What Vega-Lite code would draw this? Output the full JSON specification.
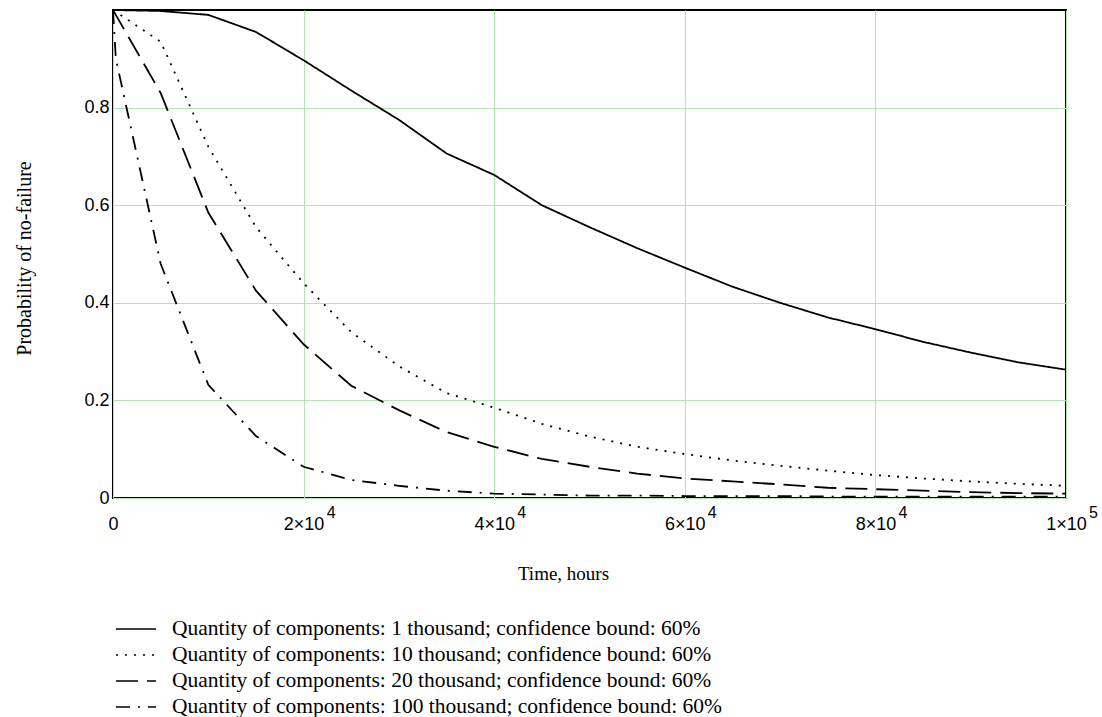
{
  "$schema": "https://vega.github.io/schema/vega-lite/v6.json",
  "autosize": "none",
  "width": 953,
  "height": 488,
  "padding": {"left": 113, "top": 10, "right": 36, "bottom": 219},
  "background": "white",
  "config": {
    "view": {"stroke": "black", "strokeWidth": 2},
    "axis": {"gridColor": "#aee8ae", "gridOpacity": 1, "gridWidth": 1, "domain": false, "ticks": false}
  },
  "datasets": {
    "curves": [
      {"t": 0, "p": 1.0, "series": "Quantity of components: 1 thousand; confidence bound: 60%"},
      {"t": 5000, "p": 0.998, "series": "Quantity of components: 1 thousand; confidence bound: 60%"},
      {"t": 10000, "p": 0.99, "series": "Quantity of components: 1 thousand; confidence bound: 60%"},
      {"t": 15000, "p": 0.955, "series": "Quantity of components: 1 thousand; confidence bound: 60%"},
      {"t": 20000, "p": 0.897, "series": "Quantity of components: 1 thousand; confidence bound: 60%"},
      {"t": 25000, "p": 0.835, "series": "Quantity of components: 1 thousand; confidence bound: 60%"},
      {"t": 30000, "p": 0.775, "series": "Quantity of components: 1 thousand; confidence bound: 60%"},
      {"t": 35000, "p": 0.706, "series": "Quantity of components: 1 thousand; confidence bound: 60%"},
      {"t": 40000, "p": 0.662, "series": "Quantity of components: 1 thousand; confidence bound: 60%"},
      {"t": 45000, "p": 0.6, "series": "Quantity of components: 1 thousand; confidence bound: 60%"},
      {"t": 50000, "p": 0.555, "series": "Quantity of components: 1 thousand; confidence bound: 60%"},
      {"t": 55000, "p": 0.512, "series": "Quantity of components: 1 thousand; confidence bound: 60%"},
      {"t": 60000, "p": 0.472, "series": "Quantity of components: 1 thousand; confidence bound: 60%"},
      {"t": 65000, "p": 0.433, "series": "Quantity of components: 1 thousand; confidence bound: 60%"},
      {"t": 70000, "p": 0.4, "series": "Quantity of components: 1 thousand; confidence bound: 60%"},
      {"t": 75000, "p": 0.37, "series": "Quantity of components: 1 thousand; confidence bound: 60%"},
      {"t": 80000, "p": 0.346, "series": "Quantity of components: 1 thousand; confidence bound: 60%"},
      {"t": 85000, "p": 0.32, "series": "Quantity of components: 1 thousand; confidence bound: 60%"},
      {"t": 90000, "p": 0.298, "series": "Quantity of components: 1 thousand; confidence bound: 60%"},
      {"t": 95000, "p": 0.278, "series": "Quantity of components: 1 thousand; confidence bound: 60%"},
      {"t": 100000, "p": 0.263, "series": "Quantity of components: 1 thousand; confidence bound: 60%"},

      {"t": 0, "p": 1.0, "series": "Quantity of components: 10 thousand; confidence bound: 60%"},
      {"t": 5000, "p": 0.935, "series": "Quantity of components: 10 thousand; confidence bound: 60%"},
      {"t": 10000, "p": 0.72, "series": "Quantity of components: 10 thousand; confidence bound: 60%"},
      {"t": 15000, "p": 0.555, "series": "Quantity of components: 10 thousand; confidence bound: 60%"},
      {"t": 20000, "p": 0.44, "series": "Quantity of components: 10 thousand; confidence bound: 60%"},
      {"t": 25000, "p": 0.34, "series": "Quantity of components: 10 thousand; confidence bound: 60%"},
      {"t": 30000, "p": 0.27, "series": "Quantity of components: 10 thousand; confidence bound: 60%"},
      {"t": 35000, "p": 0.215, "series": "Quantity of components: 10 thousand; confidence bound: 60%"},
      {"t": 40000, "p": 0.185, "series": "Quantity of components: 10 thousand; confidence bound: 60%"},
      {"t": 45000, "p": 0.152, "series": "Quantity of components: 10 thousand; confidence bound: 60%"},
      {"t": 50000, "p": 0.126, "series": "Quantity of components: 10 thousand; confidence bound: 60%"},
      {"t": 55000, "p": 0.105, "series": "Quantity of components: 10 thousand; confidence bound: 60%"},
      {"t": 60000, "p": 0.09, "series": "Quantity of components: 10 thousand; confidence bound: 60%"},
      {"t": 65000, "p": 0.077, "series": "Quantity of components: 10 thousand; confidence bound: 60%"},
      {"t": 70000, "p": 0.066, "series": "Quantity of components: 10 thousand; confidence bound: 60%"},
      {"t": 75000, "p": 0.056, "series": "Quantity of components: 10 thousand; confidence bound: 60%"},
      {"t": 80000, "p": 0.047, "series": "Quantity of components: 10 thousand; confidence bound: 60%"},
      {"t": 85000, "p": 0.04, "series": "Quantity of components: 10 thousand; confidence bound: 60%"},
      {"t": 90000, "p": 0.034, "series": "Quantity of components: 10 thousand; confidence bound: 60%"},
      {"t": 95000, "p": 0.029, "series": "Quantity of components: 10 thousand; confidence bound: 60%"},
      {"t": 100000, "p": 0.025, "series": "Quantity of components: 10 thousand; confidence bound: 60%"},

      {"t": 0, "p": 1.0, "series": "Quantity of components: 20 thousand; confidence bound: 60%"},
      {"t": 5000, "p": 0.83, "series": "Quantity of components: 20 thousand; confidence bound: 60%"},
      {"t": 10000, "p": 0.585, "series": "Quantity of components: 20 thousand; confidence bound: 60%"},
      {"t": 15000, "p": 0.425, "series": "Quantity of components: 20 thousand; confidence bound: 60%"},
      {"t": 20000, "p": 0.315, "series": "Quantity of components: 20 thousand; confidence bound: 60%"},
      {"t": 25000, "p": 0.23, "series": "Quantity of components: 20 thousand; confidence bound: 60%"},
      {"t": 30000, "p": 0.18, "series": "Quantity of components: 20 thousand; confidence bound: 60%"},
      {"t": 35000, "p": 0.135, "series": "Quantity of components: 20 thousand; confidence bound: 60%"},
      {"t": 40000, "p": 0.105, "series": "Quantity of components: 20 thousand; confidence bound: 60%"},
      {"t": 45000, "p": 0.08, "series": "Quantity of components: 20 thousand; confidence bound: 60%"},
      {"t": 50000, "p": 0.064, "series": "Quantity of components: 20 thousand; confidence bound: 60%"},
      {"t": 55000, "p": 0.05, "series": "Quantity of components: 20 thousand; confidence bound: 60%"},
      {"t": 60000, "p": 0.04, "series": "Quantity of components: 20 thousand; confidence bound: 60%"},
      {"t": 65000, "p": 0.034, "series": "Quantity of components: 20 thousand; confidence bound: 60%"},
      {"t": 70000, "p": 0.028, "series": "Quantity of components: 20 thousand; confidence bound: 60%"},
      {"t": 75000, "p": 0.021, "series": "Quantity of components: 20 thousand; confidence bound: 60%"},
      {"t": 80000, "p": 0.018, "series": "Quantity of components: 20 thousand; confidence bound: 60%"},
      {"t": 85000, "p": 0.015, "series": "Quantity of components: 20 thousand; confidence bound: 60%"},
      {"t": 90000, "p": 0.012, "series": "Quantity of components: 20 thousand; confidence bound: 60%"},
      {"t": 95000, "p": 0.01, "series": "Quantity of components: 20 thousand; confidence bound: 60%"},
      {"t": 100000, "p": 0.009, "series": "Quantity of components: 20 thousand; confidence bound: 60%"},

      {"t": 0, "p": 1.0, "series": "Quantity of components: 100 thousand; confidence bound: 60%"},
      {"t": 300, "p": 0.9, "series": "Quantity of components: 100 thousand; confidence bound: 60%"},
      {"t": 5000, "p": 0.48, "series": "Quantity of components: 100 thousand; confidence bound: 60%"},
      {"t": 10000, "p": 0.232, "series": "Quantity of components: 100 thousand; confidence bound: 60%"},
      {"t": 15000, "p": 0.127, "series": "Quantity of components: 100 thousand; confidence bound: 60%"},
      {"t": 20000, "p": 0.064, "series": "Quantity of components: 100 thousand; confidence bound: 60%"},
      {"t": 25000, "p": 0.037, "series": "Quantity of components: 100 thousand; confidence bound: 60%"},
      {"t": 30000, "p": 0.025, "series": "Quantity of components: 100 thousand; confidence bound: 60%"},
      {"t": 35000, "p": 0.015, "series": "Quantity of components: 100 thousand; confidence bound: 60%"},
      {"t": 40000, "p": 0.009, "series": "Quantity of components: 100 thousand; confidence bound: 60%"},
      {"t": 45000, "p": 0.007, "series": "Quantity of components: 100 thousand; confidence bound: 60%"},
      {"t": 50000, "p": 0.005, "series": "Quantity of components: 100 thousand; confidence bound: 60%"},
      {"t": 55000, "p": 0.005, "series": "Quantity of components: 100 thousand; confidence bound: 60%"},
      {"t": 60000, "p": 0.004, "series": "Quantity of components: 100 thousand; confidence bound: 60%"},
      {"t": 65000, "p": 0.004, "series": "Quantity of components: 100 thousand; confidence bound: 60%"},
      {"t": 70000, "p": 0.004, "series": "Quantity of components: 100 thousand; confidence bound: 60%"},
      {"t": 75000, "p": 0.003, "series": "Quantity of components: 100 thousand; confidence bound: 60%"},
      {"t": 80000, "p": 0.003, "series": "Quantity of components: 100 thousand; confidence bound: 60%"},
      {"t": 85000, "p": 0.003, "series": "Quantity of components: 100 thousand; confidence bound: 60%"},
      {"t": 90000, "p": 0.003, "series": "Quantity of components: 100 thousand; confidence bound: 60%"},
      {"t": 95000, "p": 0.003, "series": "Quantity of components: 100 thousand; confidence bound: 60%"},
      {"t": 100000, "p": 0.003, "series": "Quantity of components: 100 thousand; confidence bound: 60%"}
    ]
  },
  "data": {"name": "curves"},
  "resolve": {"axis": {"x": "independent"}},
  "layer": [
    {
      "mark": {"type": "line", "color": "black", "strokeWidth": 1.8, "clip": true},
      "encoding": {
        "x": {
          "field": "t", "type": "quantitative",
          "scale": {"domain": [0, 100000], "nice": false, "zero": false},
          "axis": {
            "orient": "bottom",
            "values": [0, 20000, 40000, 60000, 80000, 100000],
            "labelExpr": "datum.value == 0 ? '0' : datum.value == 20000 ? '2×10' : datum.value == 40000 ? '4×10' : datum.value == 60000 ? '6×10' : datum.value == 80000 ? '8×10' : '1×10'",
            "labelFont": "Liberation Sans", "labelFontSize": 18, "labelColor": "black",
            "labelPadding": 17, "labelFlush": false,
            "title": "Time, hours", "titleFont": "Liberation Serif", "titleFontSize": 19, "titleFontWeight": "normal", "titleColor": "black",
            "titleX": 450, "titleY": 75, "titleBaseline": "middle", "titleAlign": "center"
          }
        },
        "y": {
          "field": "p", "type": "quantitative",
          "scale": {"domain": [0, 1], "nice": false},
          "axis": {
            "values": [0, 0.2, 0.4, 0.6, 0.8],
            "format": ".1~f",
            "labelFont": "Liberation Sans", "labelFontSize": 18, "labelColor": "black",
            "labelPadding": 4,
            "title": "Probability of no-failure", "titleFont": "Liberation Serif", "titleFontSize": 20, "titleFontWeight": "normal", "titleColor": "black",
            "titleX": -89, "titleY": 248, "titleAngle": -90, "titleBaseline": "middle", "titleAlign": "center"
          }
        },
        "strokeDash": {
          "field": "series", "type": "nominal",
          "scale": {
            "domain": [
              "Quantity of components: 1 thousand; confidence bound: 60%",
              "Quantity of components: 10 thousand; confidence bound: 60%",
              "Quantity of components: 20 thousand; confidence bound: 60%",
              "Quantity of components: 100 thousand; confidence bound: 60%"
            ],
            "range": [[1, 0], [2, 7], [22, 9], [14, 8, 2, 8]]
          },
          "legend": {
            "orient": "none", "legendX": 2, "legendY": 606,
            "title": null,
            "symbolType": "stroke", "symbolSize": 1600, "symbolStrokeColor": "black", "symbolStrokeWidth": 1.6,
            "labelFont": "Liberation Serif", "labelFontSize": 21.5, "labelColor": "black", "labelOffset": 15, "labelLimit": 800,
            "clipHeight": 26, "rowPadding": 0
          }
        }
      }
    },
    {
      "mark": {"type": "point", "opacity": 0},
      "encoding": {
        "x": {
          "field": "t", "type": "quantitative",
          "axis": {
            "orient": "bottom",
            "values": [0, 20000, 40000, 60000, 80000, 100000],
            "labelExpr": "datum.value == 0 ? '' : datum.value == 100000 ? '5' : '4'",
            "labelFont": "Liberation Sans", "labelFontSize": 16, "labelColor": "black",
            "labelPadding": 6, "labelOffset": 27, "labelFlush": false,
            "grid": false, "title": null
          }
        }
      }
    }
  ]
}
